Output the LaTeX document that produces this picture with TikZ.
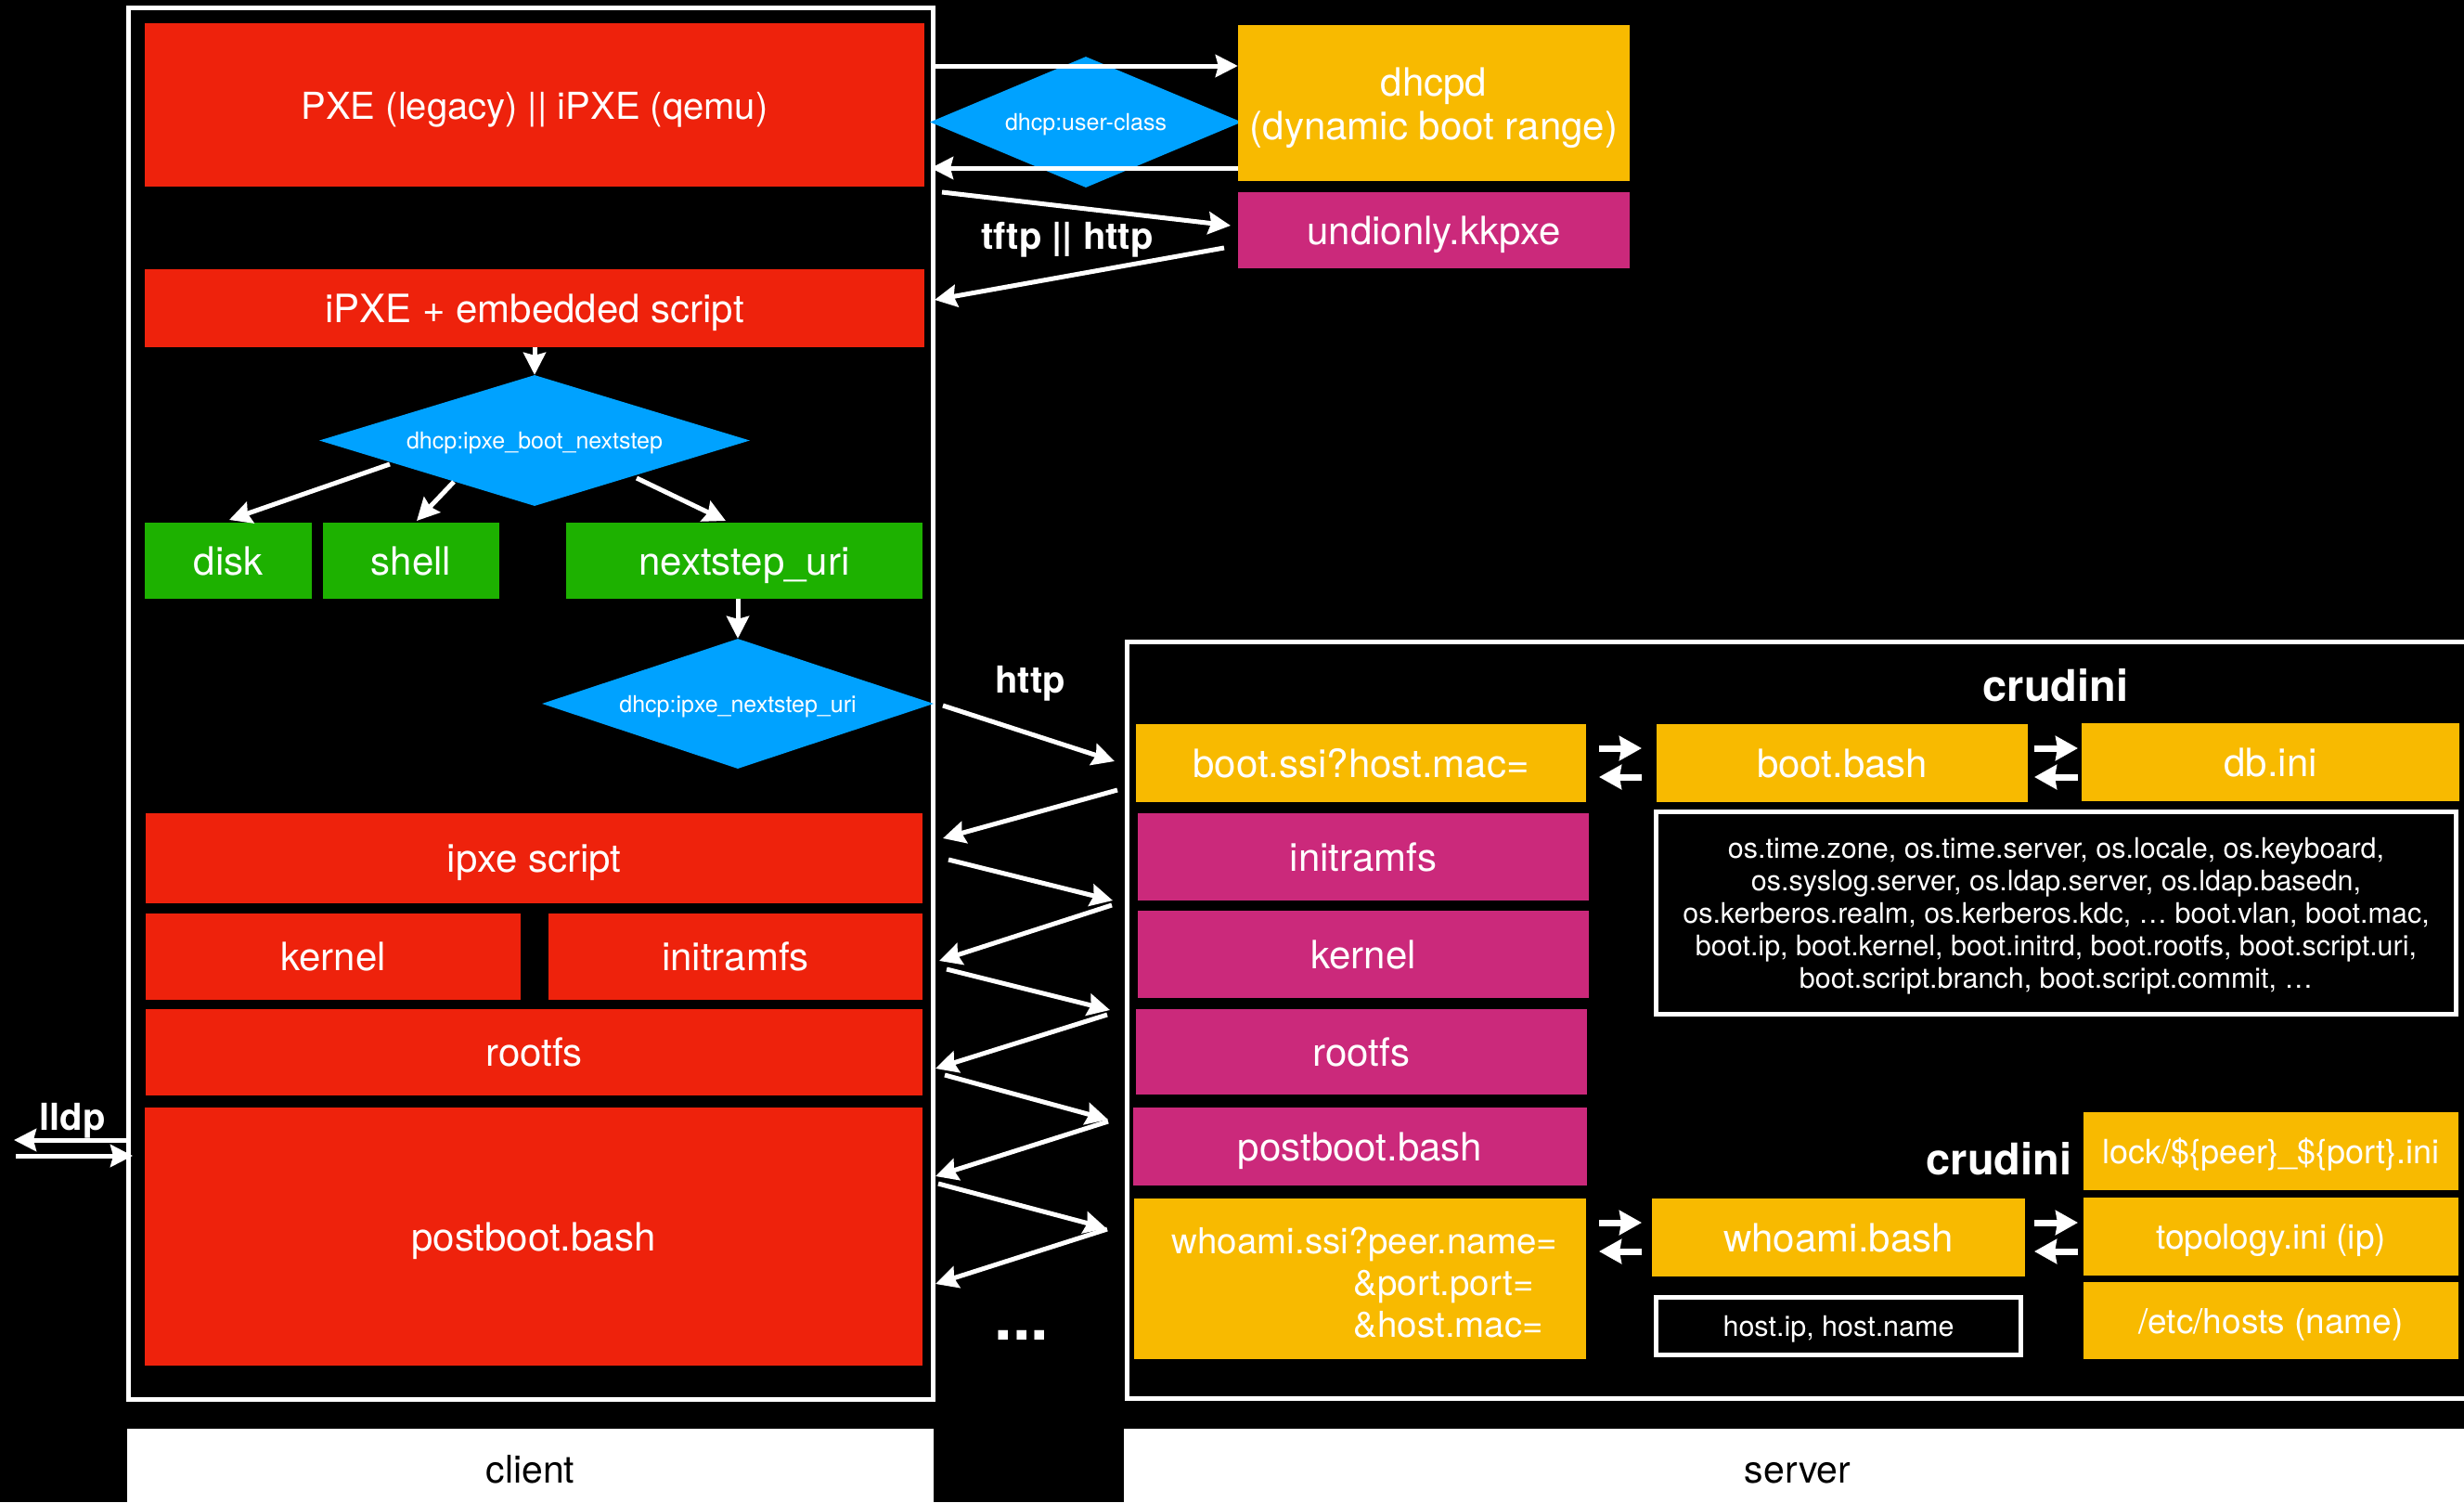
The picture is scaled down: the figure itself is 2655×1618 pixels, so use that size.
\documentclass[tikz,border=0pt]{standalone}
\usepackage{fontspec}
\setmainfont{TeX Gyre Heros}
\usetikzlibrary{arrows.meta,shapes.geometric}
\definecolor{kred}{HTML}{EE220C}
\definecolor{kyel}{HTML}{F8BA00}
\definecolor{kmag}{HTML}{CB297B}
\definecolor{kgrn}{HTML}{1DB100}
\definecolor{kblu}{HTML}{00A2FF}
\newcommand\labfont{\fontsize{42}{47}\selectfont}
\newcommand\dlabfont{\fontsize{25}{30}\selectfont}
\newcommand\infofont{\fontsize{30.5}{35}\selectfont}
\newcommand\boldlab{\fontsize{40}{46}\selectfont\bfseries}
\newcommand\crudfont{\fontsize{47}{52}\selectfont\bfseries}
\begin{document}
\begin{tikzpicture}[x=1pt,y=-1pt,
  cbox/.style={inner sep=0pt, text=white, font=\labfont, align=center},
  one/.style={text height=30pt, text depth=0pt},
  redbox/.style={cbox, fill=kred},
  yelbox/.style={cbox, fill=kyel},
  magbox/.style={cbox, fill=kmag},
  grnbox/.style={cbox, fill=kgrn},
  dia/.style={diamond, fill=kblu, inner sep=0pt, text=white, font=\dlabfont, text height=18pt, text depth=0pt},
  frame/.style={draw=white, line width=5pt},
  wlabel/.style={text=white, font=\boldlab, inner sep=0pt, text height=29pt, text depth=0pt},
  whitebar/.style={fill=white, text=black, font=\fontsize{41}{46}\selectfont, inner sep=0pt},
  arr/.style={draw=white, line width=5pt, -{Stealth[length=24pt,width=24pt,inset=3pt]}},
  barr/.style={draw=white, line width=7pt, -{Stealth[length=24pt,width=26pt,inset=2pt]}}
]
\fill[black] (0,0) rectangle (2655,1618);
\useasboundingbox (0,0) rectangle (2655,1618);

% ---------------- client ----------------
\draw[frame] (138,8) rectangle (1005,1507);
\node[redbox, one, font=\fontsize{40}{46}\selectfont, minimum width=840, minimum height=176] (pxe) at (576,113) {PXE (legacy) || iPXE (qemu)};
\node[dia, shape aspect=2.4, minimum width=336, minimum height=141] (ucls) at (1170,131.5) {dhcp:user-class};
\node[yelbox, minimum width=422, minimum height=168] (dhcpd) at (1545,111)
 {\raisebox{-7pt}[\height][\depth]{\begin{tabular}{@{}c@{}}dhcpd\\(dynamic boot range)\end{tabular}}};
\node[magbox, one, minimum width=422, minimum height=82] (undi) at (1545,248) {undionly.kkpxe};
\node[redbox, one, minimum width=840, minimum height=84] (ipxe) at (576,332) {iPXE + embedded script};
\node[dia, shape aspect=3.3, minimum width=464, minimum height=141] (bnext) at (576,474.5) {dhcp:ipxe\_boot\_nextstep};
\node[grnbox, one, minimum width=180, minimum height=82] (disk) at (246,604) {disk};
\node[grnbox, one, minimum width=190, minimum height=82] (shell) at (443,604) {shell};
\node[grnbox, one, minimum width=384, minimum height=82] (nuri) at (802,604) {nextstep\_uri};
\node[dia, shape aspect=3.0, minimum width=422, minimum height=140] (nurid) at (795,758) {dhcp:ipxe\_nextstep\_uri};
\node[redbox, one, minimum width=837, minimum height=97] (iscript) at (575.5,924.5) {ipxe script};
\node[redbox, one, minimum width=404, minimum height=93] (kernc) at (359,1030.5) {kernel};
\node[redbox, one, minimum width=403, minimum height=93] (initc) at (792.5,1030.5) {initramfs};
\node[redbox, one, minimum width=837, minimum height=93] (rootc) at (575.5,1133.5) {rootfs};
\node[redbox, one, minimum width=838, minimum height=278] (postc) at (575,1332) {postboot.bash};

\node[whitebar, one, minimum width=869, minimum height=86] (clientbar) at (571.5,1582) {client};

% lldp
\node[wlabel] (lldp) at (78,1203) {lldp};
\coordinate (l1s) at (138,1228);
\coordinate (l1e) at (15,1228);
\coordinate (l2s) at (17,1245);
\coordinate (l2e) at (143,1245);
\draw[arr] (l1s) -- (l1e);
\draw[arr] (l2s) -- (l2e);

% top arrows
\coordinate (a1s) at (1003,71);
\coordinate (a2e) at (1003,181);
\draw[arr] (a1s) -- (a1s -| dhcpd.west);
\draw[arr] (a2e -| dhcpd.west) -- (a2e);
\coordinate (t1s) at (1015,207);
\coordinate (t1e) at (1326,243);
\coordinate (t2s) at (1319,267);
\coordinate (t2e) at (1007,323);
\draw[arr] (t1s) -- (t1e);
\draw[arr] (t2s) -- (t2e);
\node[wlabel] (tftp) at (1150,254) {tftp || http};

\draw[arr] (ipxe.south) -- (bnext.north);
\coordinate (d1s) at (420,500);
\coordinate (d1e) at (247,560);
\coordinate (d2s) at (489,519);
\coordinate (d2e) at (449,561);
\coordinate (d3s) at (686,515);
\coordinate (d3e) at (782,561);
\draw[arr] (d1s) -- (d1e);
\draw[arr] (d2s) -- (d2e);
\draw[arr] (d3s) -- (d3e);
\draw[arr] (nuri.south -| nurid.north) -- (nurid.north);

% ---------------- server ----------------
\draw[frame] (1214,691) rectangle (2700,1506);
\node[whitebar, minimum width=1489, minimum height=86, anchor=west] (serverbar) at (1211,1582) {};
\node[text=black, font=\fontsize{41}{46}\selectfont, inner sep=0pt, one] (serverlab) at (1937,1582) {server};

\node[text=white, font=\crudfont, inner sep=0pt, one] (crud1) at (2215,740) {crudini};
\node[yelbox, one, minimum width=485, minimum height=84] (bootssi) at (1466.5,822) {boot.ssi?host.mac=};
\node[yelbox, one, minimum width=400, minimum height=84] (bootbash) at (1985,822) {boot.bash};
\node[yelbox, one, minimum width=407, minimum height=84] (dbini) at (2446.5,821) {db.ini};
\node[draw=white, line width=5pt, minimum width=862, minimum height=218, inner sep=0pt, text=white, font=\infofont, align=center] (info) at (2215.5,983.5)
 {\raisebox{-4pt}[\height][\depth]{\begin{tabular}{@{}c@{}}os.time.zone, os.time.server, os.locale, os.keyboard,\\
  os.syslog.server, os.ldap.server, os.ldap.basedn,\\
  os.kerberos.realm, os.kerberos.kdc, … boot.vlan, boot.mac,\\
  boot.ip, boot.kernel, boot.initrd, boot.rootfs, boot.script.uri,\\
  boot.script.branch, boot.script.commit, …\end{tabular}}};
\node[magbox, one, minimum width=486, minimum height=94] (initm) at (1469,923) {initramfs};
\node[magbox, one, minimum width=486, minimum height=94] (kernm) at (1469,1028) {kernel};
\node[magbox, one, minimum width=486, minimum height=92] (rootm) at (1467,1133) {rootfs};
\node[magbox, one, minimum width=489, minimum height=84] (postm) at (1465.5,1235) {postboot.bash};
\node[yelbox, minimum width=487, minimum height=173, font=\fontsize{38.5}{45}\selectfont] (whossi) at (1465.5,1377.5)
 {\raisebox{-8.5pt}[\height][\depth]{\begin{tabular}{@{}l@{}}\hspace*{10pt}whoami.ssi?peer.name=\\\hspace*{206pt}\&port.port=\\\hspace*{206pt}\&host.mac=\end{tabular}}};
\node[yelbox, one, minimum width=402, minimum height=84] (whobash) at (1981,1333) {whoami.bash};
\node[draw=white, line width=5pt, minimum width=393, minimum height=62, inner sep=0pt, text=white, font=\fontsize{30.5}{34}\selectfont, text height=22pt, text depth=0pt] (hostip) at (1981,1428.5) {host.ip, host.name};
\node[yelbox, one, minimum width=404, minimum height=84, font=\fontsize{36}{40}\selectfont, text height=26pt] (lock) at (2447,1240) {lock/\$\{peer\}\_\$\{port\}.ini};
\node[yelbox, one, minimum width=404, minimum height=84, font=\fontsize{37}{42}\selectfont, text height=27pt] (topo) at (2447,1332) {topology.ini (ip)};
\node[yelbox, one, minimum width=404, minimum height=83, font=\fontsize{37}{42}\selectfont, text height=27pt] (hosts) at (2447,1422.5) {/etc/hosts (name)};
\node[text=white, font=\crudfont, inner sep=0pt, one] (crud2) at (2154,1250) {crudini};

% bidirectional arrows
\coordinate (b1a) at (1723,806); \coordinate (b1b) at (1769,806);
\coordinate (b2a) at (1769,837); \coordinate (b2b) at (1723,837);
\coordinate (b3a) at (2192,806); \coordinate (b3b) at (2239,806);
\coordinate (b4a) at (2239,837); \coordinate (b4b) at (2192,837);
\draw[barr] (b1a) -- (b1b);
\draw[barr] (b2a) -- (b2b);
\draw[barr] (b3a) -- (b3b);
\draw[barr] (b4a) -- (b4b);
\coordinate (b5a) at (1723,1317); \coordinate (b5b) at (1769,1317);
\coordinate (b6a) at (1769,1348); \coordinate (b6b) at (1723,1348);
\coordinate (b7a) at (2192,1317); \coordinate (b7b) at (2239,1317);
\coordinate (b8a) at (2239,1348); \coordinate (b8b) at (2192,1348);
\draw[barr] (b5a) -- (b5b);
\draw[barr] (b6a) -- (b6b);
\draw[barr] (b7a) -- (b7b);
\draw[barr] (b8a) -- (b8b);

% ---------------- http zigzag ----------------
\node[wlabel] (http) at (1110,732) {http};
\coordinate (z1s) at (1016,760);  \coordinate (z1e) at (1201,820);
\coordinate (z2s) at (1204,851);  \coordinate (z2e) at (1016,903);
\coordinate (z3s) at (1022,926);  \coordinate (z3e) at (1199,970);
\coordinate (z4s) at (1198,975);  \coordinate (z4e) at (1012,1035);
\coordinate (z5s) at (1020,1044); \coordinate (z5e) at (1196,1088);
\coordinate (z6s) at (1193,1093); \coordinate (z6e) at (1008,1151);
\coordinate (z7s) at (1018,1158); \coordinate (z7e) at (1194,1206);
\coordinate (z8s) at (1194,1208); \coordinate (z8e) at (1008,1267);
\coordinate (z9s) at (1011,1275); \coordinate (z9e) at (1192,1323);
\coordinate (z10s) at (1193,1324); \coordinate (z10e) at (1008,1383);
\foreach \i in {1,...,10} {\draw[arr] (z\i s) -- (z\i e);}
\node[text=white, font=\fontsize{70}{74}\selectfont\bfseries, inner sep=0pt] (dots) at (1101,1438) {...};
\end{tikzpicture}
\end{document}
